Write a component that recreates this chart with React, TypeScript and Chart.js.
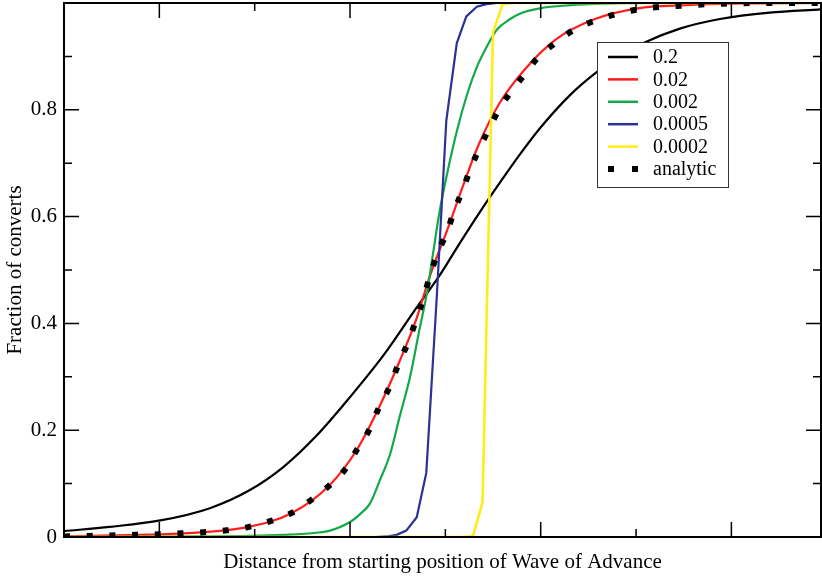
import React, { useEffect, useRef } from 'react';
import { Chart, registerables } from 'chart.js';

Chart.register(...registerables);

const FONT = "'Liberation Serif', 'Times New Roman', serif";

const seriesLabels = ['0.2', '0.02', '0.002', '0.0005', '0.0002', 'analytic'];
const seriesColors = ['#000000', '#ff1c1c', '#12a94b', '#2c3196', '#ffec1a', '#000000'];

const blackX = [0, 48, 101, 153, 195, 230, 265, 300, 335, 370, 394, 415, 436, 457, 478, 499, 531, 559, 583, 609, 646, 688, 740, 794];
const blackY = [0.011, 0.019, 0.031, 0.054, 0.088, 0.131, 0.19, 0.262, 0.34, 0.43, 0.49, 0.55, 0.608, 0.663, 0.716, 0.765, 0.828, 0.871, 0.901, 0.926, 0.952, 0.97, 0.982, 0.988];

const redX = [0, 50, 99, 147, 194, 239, 278, 307, 331, 351, 369, 384, 402, 418, 435, 456, 483, 516, 557, 602, 652, 700, 794];
const redY = [0.001, 0.003, 0.005, 0.009, 0.019, 0.045, 0.096, 0.163, 0.245, 0.325, 0.405, 0.49, 0.575, 0.655, 0.735, 0.81, 0.875, 0.932, 0.97, 0.99, 0.996, 0.999, 1.0];

const greenX = [0, 143, 195, 230, 265, 279, 300, 310, 321, 331, 342, 352, 363, 373, 381, 387, 394, 403, 412, 423, 433, 444, 454, 468, 478, 499, 531, 565, 615, 794];
const greenY = [0, 0.001, 0.002, 0.004, 0.008, 0.012, 0.028, 0.042, 0.063, 0.105, 0.155, 0.225, 0.3, 0.39, 0.46, 0.53, 0.61, 0.69, 0.76, 0.83, 0.88, 0.92, 0.95, 0.97, 0.98, 0.99, 0.996, 0.999, 1.0, 1.0];

const blueX = [0, 327, 338, 349, 359, 370, 380, 391, 401, 412, 422, 433, 443, 454, 794];
const blueY = [0, 0, 0.001, 0.004, 0.012, 0.037, 0.12, 0.45, 0.78, 0.925, 0.975, 0.993, 0.998, 1.0, 1.0];

const yellowX = [0, 418, 429, 439, 450, 460, 471, 794];
const yellowY = [0, 0, 0.002, 0.065, 0.945, 0.998, 1.0, 1.0];

const analyticX = [0, 26, 50, 75, 99, 123, 147, 171, 194, 217, 239, 259, 278, 295, 307, 320, 331, 342, 351, 361, 369, 377, 384, 392, 402, 409, 418, 426, 435, 446, 456, 468, 483, 497, 516, 535, 557, 581, 602, 628, 652, 676, 700, 723, 794];
const analyticY = [0.001, 0.002, 0.003, 0.004, 0.005, 0.007, 0.009, 0.0125, 0.019, 0.03, 0.045, 0.069, 0.096, 0.127, 0.163, 0.2, 0.245, 0.283, 0.325, 0.365, 0.405, 0.447, 0.49, 0.532, 0.572, 0.61, 0.649, 0.688, 0.725, 0.765, 0.8, 0.832, 0.866, 0.898, 0.926, 0.95, 0.967, 0.98, 0.988, 0.993, 0.995, 0.998, 0.999, 1.0, 1.0];

const xMin = 0;
const xMax = 794;
const xMajorTicks = [100, 300, 500, 700];
const xMinorTicks = [0, 200, 400, 600];
const yMajorTicks = [0, 0.2, 0.4, 0.6, 0.8, 1.0];
const yMinorTicks = [0.1, 0.3, 0.5, 0.7, 0.9];
const yLabelTicks = [0, 0.2, 0.4, 0.6, 0.8];
const xTitle = 'Distance from starting position of Wave of Advance';
const yTitle = 'Fraction of converts';

const zip = (xs: number[], ys: number[]) => xs.map((x, i) => ({ x, y: ys[i] }));

const framePlugin = {
  id: 'frameTicksLegend',
  afterDatasetsDraw(chart: any) {
    const { ctx, chartArea: a, scales } = chart;
    const xs = scales.x;
    const ys = scales.y;
    ctx.save();
    ctx.strokeStyle = '#000';
    ctx.lineWidth = 1.5;
    const major = 15;
    const minor = 8;
    ctx.beginPath();
    const xt = (v: number, len: number) => {
      const px = xs.getPixelForValue(v);
      ctx.moveTo(px, a.bottom);
      ctx.lineTo(px, a.bottom - len);
      ctx.moveTo(px, a.top);
      ctx.lineTo(px, a.top + len);
    };
    const yt = (v: number, len: number) => {
      const py = ys.getPixelForValue(v);
      ctx.moveTo(a.left, py);
      ctx.lineTo(a.left + len, py);
      ctx.moveTo(a.right, py);
      ctx.lineTo(a.right - len, py);
    };
    xMajorTicks.forEach((v) => xt(v, major));
    xMinorTicks.forEach((v) => xt(v, minor));
    yMajorTicks.forEach((v) => yt(v, major));
    yMinorTicks.forEach((v) => yt(v, minor));
    ctx.stroke();
    ctx.lineWidth = 2;
    ctx.strokeRect(a.left, a.top, a.right - a.left, a.bottom - a.top);

    // legend
    const bx = 597.5;
    const by = 42.5;
    const bw = 131;
    const bh = 145;
    ctx.fillStyle = '#fff';
    ctx.fillRect(bx, by, bw, bh);
    ctx.lineWidth = 1;
    ctx.strokeStyle = '#333';
    ctx.strokeRect(bx, by, bw, bh);
    ctx.font = `20px ${FONT}`;
    ctx.textBaseline = 'middle';
    ctx.textAlign = 'left';
    chart.data.datasets.forEach((ds: any, i: number) => {
      const yy = 57 + i * 22.4;
      ctx.save();
      ctx.strokeStyle = ds.borderColor;
      if (ds.borderDash && ds.borderDash.length) {
        ctx.lineWidth = ds.borderWidth;
        ctx.setLineDash([6, 18]);
        ctx.lineCap = 'butt';
      } else {
        ctx.lineWidth = 2.5;
      }
      ctx.beginPath();
      ctx.moveTo(608, yy);
      ctx.lineTo(638, yy);
      ctx.stroke();
      ctx.restore();
      ctx.fillStyle = '#000';
      ctx.fillText(ds.label, 653, yy + 1);
    });
    ctx.restore();
  },
};

export default function App() {
  const ref = useRef<HTMLCanvasElement | null>(null);
  useEffect(() => {
    document.body.style.margin = '0';
    const canvas = ref.current;
    if (!canvas) return;
    Chart.defaults.font.family = FONT;
    Chart.defaults.color = '#000';
    const smooth = { cubicInterpolationMode: 'monotone' as const };
    const chart = new Chart(canvas, {
      type: 'line',
      data: {
        datasets: [
          { label: seriesLabels[0], data: zip(blackX, blackY), borderColor: seriesColors[0], borderWidth: 2.2, order: 6, ...smooth },
          { label: seriesLabels[1], data: zip(redX, redY), borderColor: seriesColors[1], borderWidth: 2.2, order: 5, ...smooth },
          { label: seriesLabels[2], data: zip(greenX, greenY), borderColor: seriesColors[2], borderWidth: 2.2, order: 4, ...smooth },
          { label: seriesLabels[3], data: zip(blueX, blueY), borderColor: seriesColors[3], borderWidth: 2.2, order: 3, tension: 0 },
          { label: seriesLabels[4], data: zip(yellowX, yellowY), borderColor: seriesColors[4], borderWidth: 2.6, order: 2, tension: 0 },
          { label: seriesLabels[5], data: zip(analyticX, analyticY), borderColor: seriesColors[5], borderWidth: 6, borderDash: [6, 16.7], borderCapStyle: 'butt', order: 1, ...smooth },
        ] as any,
      },
      options: {
        animation: false,
        responsive: false,
        maintainAspectRatio: false,
        layout: { padding: { top: 3, right: 1, left: 0, bottom: 0 } },
        elements: { point: { radius: 0, hoverRadius: 0 }, line: { fill: false } },
        plugins: { legend: { display: false }, tooltip: { enabled: false } },
        events: [],
        scales: {
          x: {
            type: 'linear',
            min: xMin,
            max: xMax,
            grid: { display: false, drawTicks: false },
            border: { display: false },
            ticks: { display: false },
            title: { display: true, text: xTitle, font: { size: 21, family: FONT }, color: '#000', padding: { top: 0, bottom: 2.4 } },
            afterFit: (s: any) => { s.height = 40; s.paddingLeft = 0; s.paddingRight = 0; },
          },
          y: {
            type: 'linear',
            min: 0,
            max: 1,
            grid: { display: false, drawTicks: false },
            border: { display: false },
            afterBuildTicks: (s: any) => { s.ticks = yLabelTicks.map((value) => ({ value })); },
            ticks: {
              padding: 7,
              font: { size: 21, family: FONT },
              color: '#000',
              callback: (v: any) => String(v),
            },
            title: { display: true, text: yTitle, font: { size: 21, family: FONT }, color: '#000', padding: { top: 2.4, bottom: 0 } },
            afterFit: (s: any) => { s.width = 64; s.paddingTop = 0; s.paddingBottom = 0; },
          },
        },
      },
      plugins: [framePlugin],
    });
    return () => chart.destroy();
  }, []);
  return <canvas ref={ref} width={822} height={577} style={{ display: 'block' }} />;
}
